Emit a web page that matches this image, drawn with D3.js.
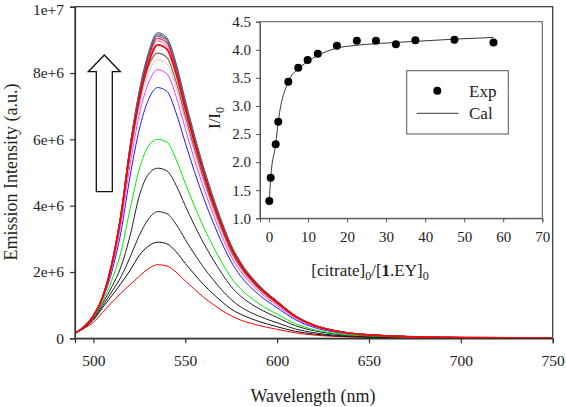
<!DOCTYPE html>
<html><head><meta charset="utf-8">
<script src="https://cdn.jsdelivr.net/npm/d3@7"></script>
<style>body{margin:0;background:#fff}svg{display:block}text{font-family:"Liberation Serif","Times New Roman",serif;fill:#222}</style>
</head><body><svg id="c" width="566" height="407"></svg>
<script>
// ---- main chart data (intensity in units of 1e6) ----
const wavelengths = [490,495,500,505,510,515,520,525,530,535,540,545,550,555,560,565,570,575,580,590,600,610,620,630,640,650,660,675,700,725,750];
const s0  = [0.15,0.3,0.48,0.78,1.08,1.36,1.62,1.87,2.1,2.22,2.18, 2.0,1.73,1.48,1.24,1.03,0.84,0.68,0.555,0.39,0.27,0.165,0.098,0.06,0.038,0.027,0.019,0.011,0.006,0.003,0.0013];
const s1  = [0.15,0.32,0.55,0.92,1.28,1.65,2.05,2.5,2.78,2.9,2.85, 2.61,2.26,1.93,1.62,1.35,1.10,0.88,0.73,0.51,0.35,0.21,0.13,0.078,0.049,0.035,0.025,0.015,0.008,0.004,0.002];
const s2  = [0.15,0.33,0.58,0.98,1.4,1.85,2.45,3.1,3.6,3.82,3.76, 3.44,2.98,2.54,2.14,1.78,1.45,1.17,0.955,0.67,0.47,0.28,0.17,0.10,0.065,0.046,0.032,0.019,0.010,0.005,0.002];
const s3  = [0.15,0.34,0.62,1.05,1.55,2.15,3.1,4.3,4.95,5.13,5.05, 4.62,4.0,3.41,2.87,2.39,1.95,1.56,1.28,0.90,0.63,0.38,0.23,0.14,0.087,0.062,0.044,0.026,0.014,0.007,0.003];
const s4  = [0.15,0.34,0.64,1.1,1.75,2.6,3.9,5.1,5.8,6.0,5.92, 5.4,4.68,3.99,3.36,2.79,2.28,1.83,1.5,1.05,0.73,0.44,0.26,0.16,0.10,0.072,0.051,0.03,0.016,0.008,0.004];
const s5  = [0.15,0.35,0.66,1.18,2.0,3.2,4.9,6.3,7.2,7.56,7.45, 6.8,5.9,5.03,4.23,3.52,2.87,2.31,1.89,1.32,0.92,0.56,0.33,0.20,0.13,0.091,0.064,0.038,0.02,0.01,0.005];
const s6  = [0.15,0.35,0.67,1.2,2.1,3.45,5.25,6.75,7.7,8.1,7.98, 7.3,6.33,5.39,4.54,3.77,3.08,2.47,2.03,1.42,0.99,0.60,0.36,0.22,0.14,0.097,0.069,0.041,0.022,0.011,0.005];
const s7  = [0.15,0.35,0.67,1.22,2.15,3.55,5.45,7.0,8.0,8.4,8.28, 7.57,6.56,5.59,4.71,3.91,3.2,2.57,2.1,1.47,1.03,0.62,0.37,0.23,0.14,0.10,0.071,0.042,0.023,0.011,0.005];
const s8  = [0.15,0.35,0.68,1.23,2.2,3.62,5.6,7.15,8.2,8.6,8.47, 7.74,6.71,5.72,4.82,4.0,3.27,2.62,2.15,1.5,1.05,0.64,0.38,0.23,0.15,0.10,0.073,0.043,0.023,0.011,0.005];
const s9  = [0.15,0.35,0.68,1.24,2.22,3.68,5.65,7.2,8.3,8.85,8.72, 7.98,6.92,5.9,4.97,4.12,3.37,2.71,2.22,1.55,1.08,0.66,0.39,0.24,0.15,0.106,0.075,0.044,0.024,0.012,0.005];
const s10 = [0.15,0.35,0.68,1.25,2.24,3.72,5.72,7.3,8.4,8.97,8.83, 8.08,7.0,5.97,5.03,4.18,3.41,2.74,2.25,1.57,1.1,0.66,0.40,0.24,0.15,0.108,0.076,0.045,0.024,0.012,0.005];
const s11 = [0.15,0.35,0.68,1.25,2.25,3.74,5.75,7.35,8.47,9.04,8.9, 8.15,7.06,6.02,5.07,4.21,3.44,2.76,2.26,1.58,1.1,0.67,0.40,0.24,0.15,0.109,0.077,0.045,0.024,0.012,0.005];
const s12 = [0.15,0.35,0.68,1.25,2.25,3.75,5.78,7.4,8.52,9.1,8.95, 8.19,7.1,6.05,5.1,4.23,3.46,2.78,2.28,1.59,1.11,0.67,0.40,0.25,0.155,0.109,0.077,0.046,0.025,0.012,0.005];
const s13 = [0.15,0.35,0.68,1.25,2.25,3.75,5.8,7.42,8.56,9.15,9.0, 8.24,7.14,6.08,5.12,4.25,3.48,2.79,2.29,1.6,1.12,0.68,0.40,0.25,0.156,0.11,0.078,0.046,0.025,0.012,0.005];
const s14 = [0.15,0.35,0.68,1.25,2.25,3.75,5.8,7.45,8.59,9.18,9.03, 8.26,7.16,6.1,5.14,4.27,3.49,2.8,2.3,1.61,1.12,0.68,0.40,0.25,0.156,0.11,0.078,0.046,0.025,0.012,0.006];
const s15 = [0.15,0.35,0.68,1.25,2.25,3.75,5.82,7.47,8.62,9.22,9.07, 8.3,7.19,6.13,5.16,4.29,3.5,2.81,2.31,1.61,1.12,0.68,0.41,0.25,0.157,0.11,0.078,0.046,0.025,0.012,0.006];
const spectra = [s0,s1,s2,s3,s4,s5,s6,s7,s8,s10,s11,s12,s13,s14,s15,s9];
const xTicks = [500,550,600,650,700,750];
const yTicks = [0,2e6,4e6,6e6,8e6,1e7];
const yTickLabels = ["0","2e+6","4e+6","6e+6","8e+6","1e+7"];

// ---- inset data ----
const expX = [0.08,0.44,1.72,2.38,4.95,7.5,9.9,12.5,17.4,22.5,27.4,32.5,37.5,47.5,57.5];
const expY = [1.31,1.72,2.32,2.72,3.43,3.68,3.82,3.93,4.07,4.16,4.16,4.10,4.17,4.18,4.13];
const calX = [0.08,0.44,1.72,2.38,4.95,7.5,9.9,12.5,17.4,22.5,27.4,32.5,37.5,47.5,57.5];
const calY = [1.31,1.72,2.32,2.72,3.43,3.66,3.79,3.90,4.03,4.08,4.11,4.13,4.15,4.19,4.22];
const insetXTicks = [0,10,20,30,40,50,60,70];
const insetYTicks = [1.0,1.5,2.0,2.5,3.0,3.5,4.0,4.5];

// ---- styles ----
const colors = ["#ff0000","#111111","#222222","#222222","#00ee00","#1a1aff","#ff33ff","#c8c8c8","#8c5a50","#ff5599","#e0003a","#7a3c3c","#3a4fa0","#8a7070","#556080","#ff0000"];
const widths = [1,1,1,1,1,1,1,1,1.2,1,1,1,1,1,1,1.8];

const svg = d3.select("#c");
const M = {l:75, r:552.7, t:6.7, b:338.3};
const x = d3.scaleLinear().domain([490,750]).range([M.l,M.r]);
const y = d3.scaleLinear().domain([0,1e7]).range([M.b,M.t]);

// frame
svg.append("rect").attr("x",M.l).attr("y",M.t).attr("width",M.r-M.l).attr("height",M.b-M.t)
  .attr("fill","none").attr("stroke","#333").attr("stroke-width",1.2);

const line = d3.line().x((d,i)=>x(wavelengths[i])).y(d=>y(d*1e6)).curve(d3.curveMonotoneX);
const g = svg.append("g");
spectra.forEach((s,i)=>{
  g.append("path").attr("d",line(s)).attr("fill","none")
   .attr("stroke",colors[i]).attr("stroke-width",widths[i]);
});

// axes
const xa = svg.append("g").attr("transform",`translate(0,${M.b})`)
  .call(d3.axisBottom(x).tickValues(xTicks).tickSize(5).tickPadding(12).tickFormat(d3.format("d")));
const ya = svg.append("g").attr("transform",`translate(${M.l},0)`)
  .call(d3.axisLeft(y).tickValues(yTicks).tickSize(5).tickPadding(6).tickFormat((d,i)=>yTickLabels[i]));
[xa,ya].forEach(a=>{
  a.select(".domain").attr("stroke","#333").attr("stroke-width",1.2);
  a.selectAll(".tick line").attr("stroke","#333").attr("stroke-width",1.2);
  a.selectAll("text").attr("font-family","Liberation Serif").attr("font-size",15.5).attr("fill","#222");
});
ya.selectAll(".tick text").filter(d=>d===1e7).attr("dy","0.5em");
svg.append("text").attr("x",313).attr("y",402).attr("text-anchor","middle").attr("font-size",18).text("Wavelength (nm)");
svg.append("text").attr("transform","translate(17,172) rotate(-90)").attr("text-anchor","middle").attr("font-size",18).text("Emission Intensity (a.u.)");

// arrow annotation
svg.append("path").attr("d","M96.3,191.7 L96.3,71.7 L88.3,71.7 L104.3,55 L120.3,71.7 L112.3,71.7 L112.3,191.7 Z")
  .attr("fill","#fff").attr("stroke","#111").attr("stroke-width",1.3);

// ---- inset ----
const I = {l:260, r:542.3, t:21.7, b:218.3};
const ix = d3.scaleLinear().domain([-2.3,70]).range([I.l,I.r]);
const iy = d3.scaleLinear().domain([1,4.5]).range([I.b,I.t]);
svg.append("rect").attr("x",I.l).attr("y",I.t).attr("width",I.r-I.l).attr("height",I.b-I.t)
  .attr("fill","#fff").attr("stroke","#555").attr("stroke-width",1);
const ixa = svg.append("g").attr("transform",`translate(0,${I.b})`)
  .call(d3.axisBottom(ix).tickValues(insetXTicks).tickSize(4).tickPadding(9).tickFormat(d3.format("d")));
const iya = svg.append("g").attr("transform",`translate(${I.l},0)`)
  .call(d3.axisLeft(iy).tickValues(insetYTicks).tickSize(4).tickPadding(5).tickFormat(d3.format(".1f")));
[ixa,iya].forEach(a=>{
  a.select(".domain").attr("stroke","#555");
  a.selectAll(".tick line").attr("stroke","#555");
  a.selectAll("text").attr("font-family","Liberation Serif").attr("font-size",15).attr("fill","#222");
});
const calLine = d3.line().x((d,i)=>ix(calX[i])).y(d=>iy(d)).curve(d3.curveMonotoneX);
svg.append("path").attr("d",calLine(calY)).attr("fill","none").attr("stroke","#222").attr("stroke-width",0.9);
svg.append("g").selectAll("circle").data(expY).join("circle")
  .attr("cx",(d,i)=>ix(expX[i])).attr("cy",d=>iy(d)).attr("r",4).attr("fill","#000");

// inset titles
const xt = svg.append("text").attr("x",370).attr("y",276).attr("text-anchor","middle").attr("font-size",17);
xt.append("tspan").text("[citrate]");
xt.append("tspan").attr("font-size",12).attr("dy",4).text("0");
xt.append("tspan").attr("dy",-4).text("/[");
xt.append("tspan").attr("font-weight","bold").text("1");
xt.append("tspan").text(".EY]");
xt.append("tspan").attr("font-size",12).attr("dy",4).text("0");
const yt = svg.append("text").attr("transform","translate(220,118) rotate(-90)").attr("text-anchor","middle").attr("font-size",17);
yt.append("tspan").text("I/I");
yt.append("tspan").attr("font-size",12).attr("dy",4).text("0");

// legend
svg.append("rect").attr("x",406.7).attr("y",70.7).attr("width",101.6).attr("height",63.3)
  .attr("fill","#fff").attr("stroke","#555").attr("stroke-width",1);
svg.append("circle").attr("cx",437.3).attr("cy",90.7).attr("r",4).attr("fill","#000");
svg.append("text").attr("x",469).attr("y",96.5).attr("font-size",17).text("Exp");
svg.append("line").attr("x1",416.7).attr("x2",458.3).attr("y1",113.3).attr("y2",113.3).attr("stroke","#222").attr("stroke-width",0.9);
svg.append("text").attr("x",469).attr("y",119).attr("font-size",17).text("Cal");
</script></body></html>
